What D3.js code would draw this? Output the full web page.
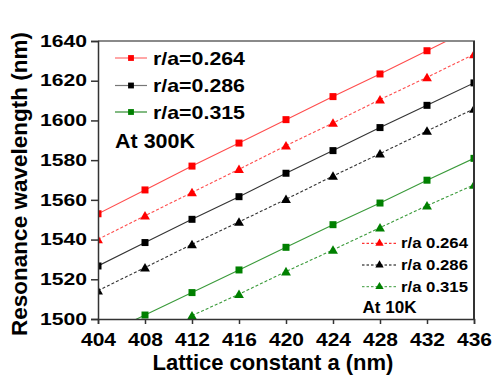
<!DOCTYPE html>
<html><head><meta charset="utf-8">
<script src="https://cdn.jsdelivr.net/npm/d3@7"></script>
<style>body{margin:0;background:#fff}svg{display:block;font-family:"Liberation Sans",Arial,sans-serif;font-weight:bold}</style>
</head><body><svg id="c" width="494" height="376"></svg>
<script>
const lattice = [404,408,412,416,420,424,428,432,436];
const xTicks = [404,408,412,416,420,424,428,432,436];
const yTicks = [1500,1520,1540,1560,1580,1600,1620,1640];
const red300   = [1553,1565,1577,1588.6,1600.4,1612,1623.4,1635.1,1646.8];
const red10    = [1540.1,1552,1563.7,1575.4,1587.3,1598.7,1610.5,1621.7,1633.3];
const black300 = [1526.7,1538.5,1550.2,1561.6,1573.4,1584.8,1596.4,1607.6,1618.9];
const black10  = [1514.3,1525.9,1537.6,1548.9,1560.3,1572,1583.3,1594.7,1605.8];
const green300 = [1490.6,1502,1513.3,1524.7,1536.1,1547.5,1558.4,1569.9,1580.9];
const green10  = [null,null,1501.7,1512.5,1523.9,1534.8,1546,1557.1,1567.5];
const legend300 = ["r/a=0.264","r/a=0.286","r/a=0.315"];
const legend10 = ["r/a 0.264","r/a 0.286","r/a 0.315"];

const svg = d3.select("#c");
const L=98,R=474,T=41,B=319;
const x = d3.scaleLinear().domain([404,436]).range([L,R]);
const y = d3.scaleLinear().domain([1500,1640]).range([B,T]);

svg.append("clipPath").attr("id","clip").append("rect").attr("x",L).attr("y",T).attr("width",R-L).attr("height",B-T);

const series = [
  {v:red300, line:"#ff4d4d", mk:"#ff0000", dash:null, shape:"sq"},
  {v:red10, line:"#ff4d4d", mk:"#ff0000", dash:"3,2", shape:"tri"},
  {v:black300, line:"#333333", mk:"#000000", dash:null, shape:"sq"},
  {v:black10, line:"#333333", mk:"#000000", dash:"3,2", shape:"tri"},
  {v:green300, line:"#3a9a3a", mk:"#008000", dash:null, shape:"sq"},
  {v:green10, line:"#3a9a3a", mk:"#008000", dash:"3,2", shape:"tri"}
];
const g = svg.append("g").attr("clip-path","url(#clip)");
const lineGen = d3.line().defined(d=>d[1]!=null).x(d=>x(d[0])).y(d=>y(d[1]));
const sqSym = d3.symbol().type(d3.symbolSquare).size(49);
const triSym = d3.symbol().type(d3.symbolTriangle).size(42);
series.forEach(s=>{
  const pts = lattice.map((a,i)=>[a,s.v[i]]);
  g.append("path").attr("d",lineGen(pts)).attr("fill","none").attr("stroke",s.line).attr("stroke-width",1.1)
   .attr("stroke-dasharray",s.dash);
  g.selectAll(null).data(pts.filter(d=>d[1]!=null)).enter().append("path")
   .attr("d", s.shape==="sq"?sqSym():triSym())
   .attr("transform",d=>`translate(${x(d[0])},${y(d[1])+(s.shape==="tri"?1:0)})`)
   .attr("fill",s.mk);
});

// frame
svg.append("line").attr("x1",L).attr("x2",R+1).attr("y1",T).attr("y2",T).attr("stroke","#8a8a8a").attr("stroke-width",2);
svg.append("line").attr("x1",R).attr("x2",R).attr("y1",T).attr("y2",B).attr("stroke","#333").attr("stroke-width",2);

// axes
const ya = svg.append("g").attr("transform",`translate(${L},0)`)
  .call(d3.axisLeft(y).tickValues(yTicks).tickSize(7).tickPadding(4).tickFormat(d3.format("d")));
ya.selectAll("text").attr("font-size",16.5).attr("font-family","Liberation Sans, Arial, sans-serif")
  .attr("font-weight","bold").attr("fill","#000").attr("textLength",47).attr("lengthAdjust","spacingAndGlyphs");
const xa = svg.append("g").attr("transform",`translate(0,${B})`)
  .call(d3.axisBottom(x).tickValues(xTicks).tickSize(5).tickPadding(9).tickFormat(d3.format("d")));
xa.selectAll("text").attr("font-size",18).attr("font-family","Liberation Sans, Arial, sans-serif")
  .attr("font-weight","bold").attr("fill","#000").attr("textLength",35).attr("lengthAdjust","spacingAndGlyphs");
[ya,xa].forEach(a=>{a.selectAll("path,line").attr("stroke","#333").attr("stroke-width",1.5);});

// axis titles
svg.append("text").attr("x",(L+R)/2-13).attr("y",370).attr("text-anchor","middle").attr("font-size",22)
  .text("Lattice constant a (nm)");
svg.append("text").attr("transform","translate(27,184) rotate(-90)").attr("text-anchor","middle").attr("font-size",22.5)
  .text("Resonance wavelength (nm)");

// legend 300K
const lg1 = svg.append("g");
const lcol = [["#ff6b6b","#ff0000"],["#777","#000"],["#2e8b2e","#008000"]];
const ly1 = [58,85.5,112];
legend300.forEach((t,i)=>{
  lg1.append("line").attr("x1",115).attr("x2",147).attr("y1",ly1[i]).attr("y2",ly1[i]).attr("stroke",lcol[i][0]).attr("stroke-width",1.2);
  lg1.append("path").attr("d",d3.symbol().type(d3.symbolSquare).size(34)()).attr("transform",`translate(131,${ly1[i]})`).attr("fill",lcol[i][1]);
  lg1.append("text").attr("x",153).attr("y",ly1[i]+6.6).attr("font-size",18.5).attr("textLength",92).attr("lengthAdjust","spacingAndGlyphs").text(t);
});
lg1.append("text").attr("x",115).attr("y",148.3).attr("font-size",19.5).attr("textLength",80).attr("lengthAdjust","spacingAndGlyphs").text("At 300K");

// legend 10K
const lg2 = svg.append("g");
const ly2 = [243.3,265,286.7];
const lcol2 = [["#ff0000","#ff0000"],["#000","#000"],["#3a9a3a","#008000"]];
legend10.forEach((t,i)=>{
  lg2.append("line").attr("x1",362).attr("x2",397).attr("y1",ly2[i]).attr("y2",ly2[i]).attr("stroke",lcol2[i][0]).attr("stroke-width",1).attr("stroke-dasharray","2.5,2");
  lg2.append("path").attr("d",d3.symbol().type(d3.symbolTriangle).size(30)()).attr("transform",`translate(379.5,${ly2[i]})`).attr("fill",lcol2[i][1]);
  lg2.append("text").attr("x",401).attr("y",ly2[i]+5).attr("font-size",14).attr("textLength",67).attr("lengthAdjust","spacingAndGlyphs").text(t);
});
lg2.append("text").attr("x",362.5).attr("y",313.3).attr("font-size",16).attr("textLength",54).attr("lengthAdjust","spacingAndGlyphs").text("At 10K");
</script></body></html>
